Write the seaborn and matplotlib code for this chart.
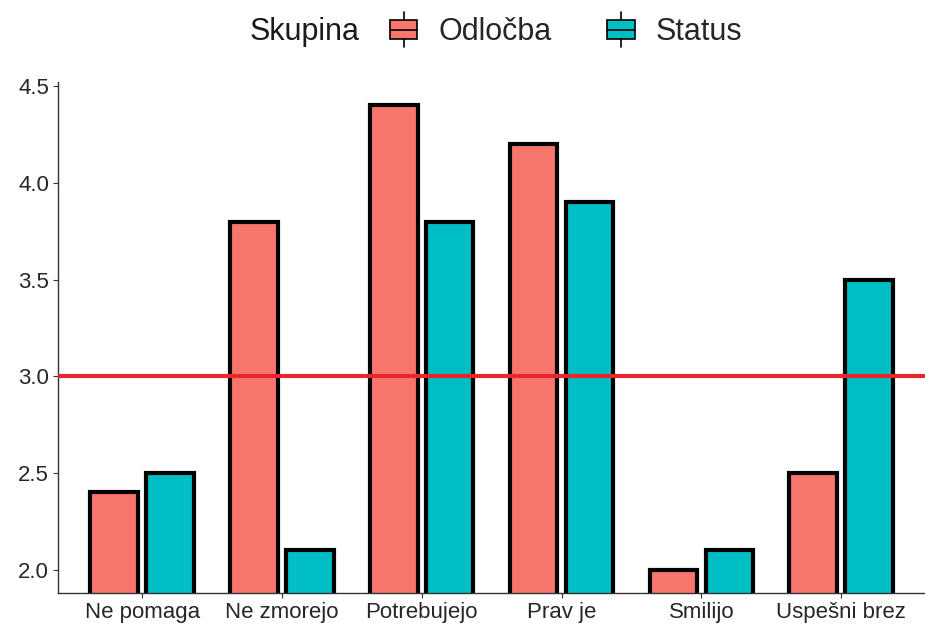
import pandas as pd
import seaborn as sns
import matplotlib.pyplot as plt
from matplotlib.patches import Rectangle
from matplotlib.lines import Line2D
from matplotlib.legend_handler import HandlerBase

categories = ["Ne pomaga", "Ne zmorejo", "Potrebujejo", "Prav je", "Smilijo", "Uspešni brez"]
groups = ["Odločba", "Status"]
odlocba = [2.4, 3.8, 4.4, 4.2, 2.0, 2.5]
status = [2.5, 2.1, 3.8, 3.9, 2.1, 3.5]
colors = ["#F8766D", "#00BFC4"]

df = pd.DataFrame({
    "kategorija": categories * 2,
    "Skupina": [groups[0]] * len(categories) + [groups[1]] * len(categories),
    "vrednost": odlocba + status,
})

sns.set_style("white")
plt.rcParams["font.family"] = ["Liberation Sans", "DejaVu Sans"]

fig = plt.figure(figsize=(9.25, 6.28), dpi=100)
ax = fig.add_axes([0.063, 0.056, 0.937, 0.813])

sns.barplot(data=df, x="kategorija", y="vrednost", hue="Skupina",
            palette=colors, saturation=1, width=0.8, gap=0.15,
            edgecolor="black", linewidth=3.0, ax=ax, legend=False)

ax.axhline(3.0, color="#E8262B", linewidth=3.0, zorder=5)

ax.set_ylim(1.88, 4.52)
ax.set_xlim(-0.6, 5.6)
ax.set_yticks([2.0, 2.5, 3.0, 3.5, 4.0, 4.5])
ax.set_yticklabels(["2.0", "2.5", "3.0", "3.5", "4.0", "4.5"])
ax.set_xlabel("")
ax.set_ylabel("")
ax.tick_params(axis="both", labelsize=16, colors="#333333", length=3.5,
               width=0.8, direction="out", labelcolor="#262626", pad=3)
ax.tick_params(left=True, bottom=True)
for s in ["top", "right"]:
    ax.spines[s].set_visible(False)
for s in ["left", "bottom"]:
    ax.spines[s].set_color("#333333")
    ax.spines[s].set_linewidth(1.0)


class BoxHandler(HandlerBase):
    # legend key drawn like the ggplot boxplot glyph
    def create_artists(self, legend, orig_handle, xdescent, ydescent,
                       width, height, fontsize, trans):
        cx = width / 2 - xdescent
        w = width
        h = height * 0.75
        y0 = -ydescent + (height - h) / 2
        rect = Rectangle((cx - w / 2, y0), w, h, facecolor=orig_handle.get_facecolor(),
                         edgecolor="black", linewidth=1.2, transform=trans)
        mid = Line2D([cx - w / 2, cx + w / 2], [y0 + h / 2, y0 + h / 2],
                     color="black", linewidth=1.2, transform=trans)
        top = Line2D([cx, cx], [y0 + h, y0 + h + height * 0.3],
                     color="black", linewidth=1.2, transform=trans)
        bot = Line2D([cx, cx], [y0, y0 - height * 0.3],
                     color="black", linewidth=1.2, transform=trans)
        return [rect, mid, top, bot]


handles = [Rectangle((0, 0), 1, 1, facecolor=c) for c in colors]
fig.legend(handles, groups, loc="center left",
           bbox_to_anchor=(0.405, 0.949), ncol=2, frameon=False,
           fontsize=22, handlelength=0.9, handleheight=0.9,
           handletextpad=0.7, columnspacing=1.8, borderpad=0,
           handler_map={Rectangle: BoxHandler()})
fig.text(0.27, 0.949, "Skupina", fontsize=22, va="center", ha="left",
         color="#1a1a1a")

fig.savefig("out.png", dpi=100)
